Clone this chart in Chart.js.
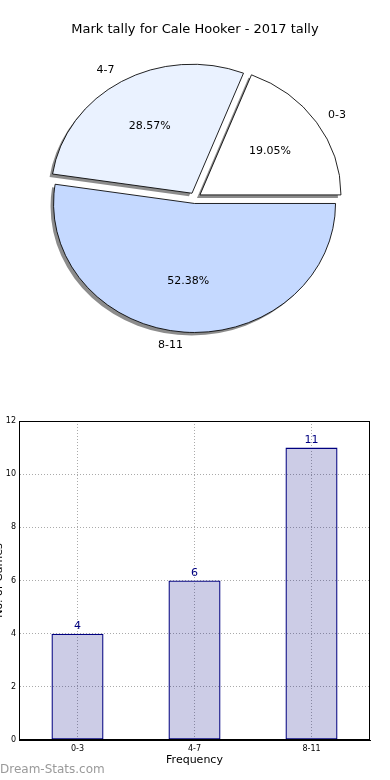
<!DOCTYPE html>
<html lang="en">
<head>
  <meta charset="UTF-8">
  <meta name="viewport" content="width=device-width, initial-scale=1.0">
  <title>Mark tally for Cale Hooker - 2017 tally</title>
  <script src="https://cdn.jsdelivr.net/npm/chart.js"></script>
  <style>
    body { margin: 0; width: 390px; height: 780px; position: relative; overflow: hidden; background: #fff; font-family: "DejaVu Sans", sans-serif; }
    #pieBox { position: absolute; left: 0; top: 0; width: 390px; height: 400px; }
    #barBox { position: absolute; left: -10px; top: 400px; width: 400px; height: 380px; }
    #mark { position: absolute; left: 0; top: 762px; font-size: 12px; color: #9a9a9a; z-index: 2; }
  </style>
</head>
<body>
  <div id="pieBox"><canvas id="pieChart"></canvas></div>
  <div id="barBox"><canvas id="barChart"></canvas></div>
  <div id="mark">Dream-Stats.com</div>

  <script>
    // data
    const bins = ['0-3', '4-7', '8-11'];
    const games = [4, 6, 11];
    const pctLabels = ['19.05%', '28.57%', '52.38%'];
    const sliceColors = ['#ffffff', '#eaf2ff', '#c5d9ff'];

    // Chart.js goes clockwise, matplotlib went counter-clockwise from 3 o'clock
    const pieOrder = [2, 1, 0];

    Chart.defaults.font.family = '"DejaVu Sans", sans-serif';
    Chart.defaults.color = '#000';

    const squash = 129 / 141;  // the original pie is a bit flattened
    const pieR = 141;
    const explode = 6;          // shift of every slice, px

    const ellipsePlugin = {
      id: 'ellipse',
      afterUpdate(chart) {
        // explode: move each slice's centre out along its middle angle
        chart.getDatasetMeta(0).data.forEach(arc => {
          const mid = (arc.startAngle + arc.endAngle) / 2;
          arc.x += Math.cos(mid) * explode;
          arc.y += Math.sin(mid) * explode;
        });
      },
      beforeDatasetsDraw(chart) {
        const ctx = chart.ctx;
        const a = chart.chartArea;
        const cx = (a.left + a.right) / 2, cy = (a.top + a.bottom) / 2;
        const arcs = chart.getDatasetMeta(0).data;
        // shadows first, under everything
        ctx.save();
        ctx.translate(-3, 3);
        ctx.translate(cx, cy);
        ctx.scale(1, squash);
        ctx.translate(-cx, -cy);
        ctx.fillStyle = 'rgba(0,0,0,0.45)';
        arcs.forEach(arc => {
          ctx.beginPath();
          ctx.moveTo(arc.x, arc.y);
          ctx.arc(arc.x, arc.y, pieR, arc.startAngle, arc.endAngle);
          ctx.closePath();
          ctx.fill();
        });
        ctx.restore();
        ctx.save();
        ctx.translate(cx, cy);
        ctx.scale(1, squash);
        ctx.translate(-cx, -cy);
      },
      afterDatasetsDraw(chart) {
        const ctx = chart.ctx;
        ctx.restore();
        const a = chart.chartArea;
        const cy0 = (a.top + a.bottom) / 2;
        const arcs = chart.getDatasetMeta(0).data;
        ctx.save();
        ctx.fillStyle = '#000';
        ctx.font = '11px "DejaVu Sans"';
        ctx.textBaseline = 'middle';
        arcs.forEach((arc, i) => {
          const mid = (arc.startAngle + arc.endAngle) / 2;
          const cosM = Math.cos(mid), sinM = Math.sin(mid);
          const sy = cy0 + (arc.y - cy0) * squash;
          const k = pieOrder[i];
          ctx.textAlign = cosM > 0 ? 'left' : 'right';
          ctx.fillText(bins[k], arc.x + 1.1 * pieR * cosM, sy + 1.1 * pieR * squash * sinM);
          ctx.textAlign = 'center';
          ctx.fillText(pctLabels[k], arc.x + 0.6 * pieR * cosM, sy + 0.6 * pieR * squash * sinM);
        });
        ctx.restore();
      }
    };

    new Chart(document.getElementById('pieChart'), {
      type: 'pie',
      data: {
        labels: pieOrder.map(i => bins[i]),
        datasets: [{
          data: pieOrder.map(i => games[i]),
          backgroundColor: pieOrder.map(i => sliceColors[i]),
          borderColor: '#000',
          borderWidth: 0.9,
          hoverOffset: 0
        }]
      },
      options: {
        responsive: true,
        maintainAspectRatio: false,
        animation: false,
        rotation: 90,
        radius: pieR,
        layout: { padding: { top: 0, bottom: 41.6, left: 0, right: 0 } },
        plugins: {
          legend: { display: false },
          tooltip: { enabled: false },
          title: {
            display: true,
            text: 'Mark tally for Cale Hooker - 2017 tally',
            font: { size: 13, weight: 'normal' },
            color: '#000',
            padding: { top: 22, bottom: 0 }
          }
        }
      },
      plugins: [ellipsePlugin]
    });

    const barExtras = {
      id: 'barExtras',
      afterDatasetsDraw(chart) {
        const ctx = chart.ctx;
        const a = chart.chartArea;
        ctx.save();
        ctx.strokeStyle = '#000';
        ctx.lineWidth = 1;
        ctx.strokeRect(a.left + 0.5, a.top + 0.5, a.right - a.left - 1, a.bottom - a.top - 1);
        ctx.fillStyle = '#000080';
        ctx.font = '11px "DejaVu Sans"';
        ctx.textAlign = 'center';
        ctx.textBaseline = 'bottom';
        chart.getDatasetMeta(0).data.forEach((bar, i) => {
          ctx.fillText(String(games[i]), bar.x, bar.y - 2);
        });
        ctx.restore();
      }
    };

    const dotted = { color: '#aaaaaa', lineWidth: 1, drawTicks: false };

    new Chart(document.getElementById('barChart'), {
      type: 'bar',
      data: {
        labels: bins,
        datasets: [{
          data: games,
          backgroundColor: 'rgba(0,0,128,0.2)',
          borderColor: '#000080',
          borderWidth: 1.3,
          borderSkipped: false,
          barPercentage: 0.445,
          categoryPercentage: 1
        }]
      },
      options: {
        responsive: true,
        maintainAspectRatio: false,
        animation: false,
        layout: { padding: { top: 21, right: 20, left: 0, bottom: 0 } },
        plugins: { legend: { display: false }, tooltip: { enabled: false } },
        scales: {
          x: {
            offset: true,
            grid: Object.assign({ offset: false }, dotted),
            border: { display: true, color: '#000', dash: [1, 2] },
            ticks: { font: { size: 8 }, padding: 4, color: '#000' },
            title: { display: true, text: 'Frequency', font: { size: 11 }, padding: { top: 0, bottom: 13 } },
            afterFit(scale) { scale.height = 40; }
          },
          y: {
            min: 0,
            max: 12,
            ticks: { stepSize: 2, font: { size: 8 }, padding: 3, color: '#000' },
            grid: dotted,
            border: { display: true, color: '#000', dash: [1, 2] },
            title: { display: true, text: 'No. of Games', font: { size: 11 }, padding: { top: 3, bottom: 0 } },
            afterFit(scale) { scale.width = 29; }
          }
        }
      },
      plugins: [barExtras]
    });
  </script>
</body>
</html>
